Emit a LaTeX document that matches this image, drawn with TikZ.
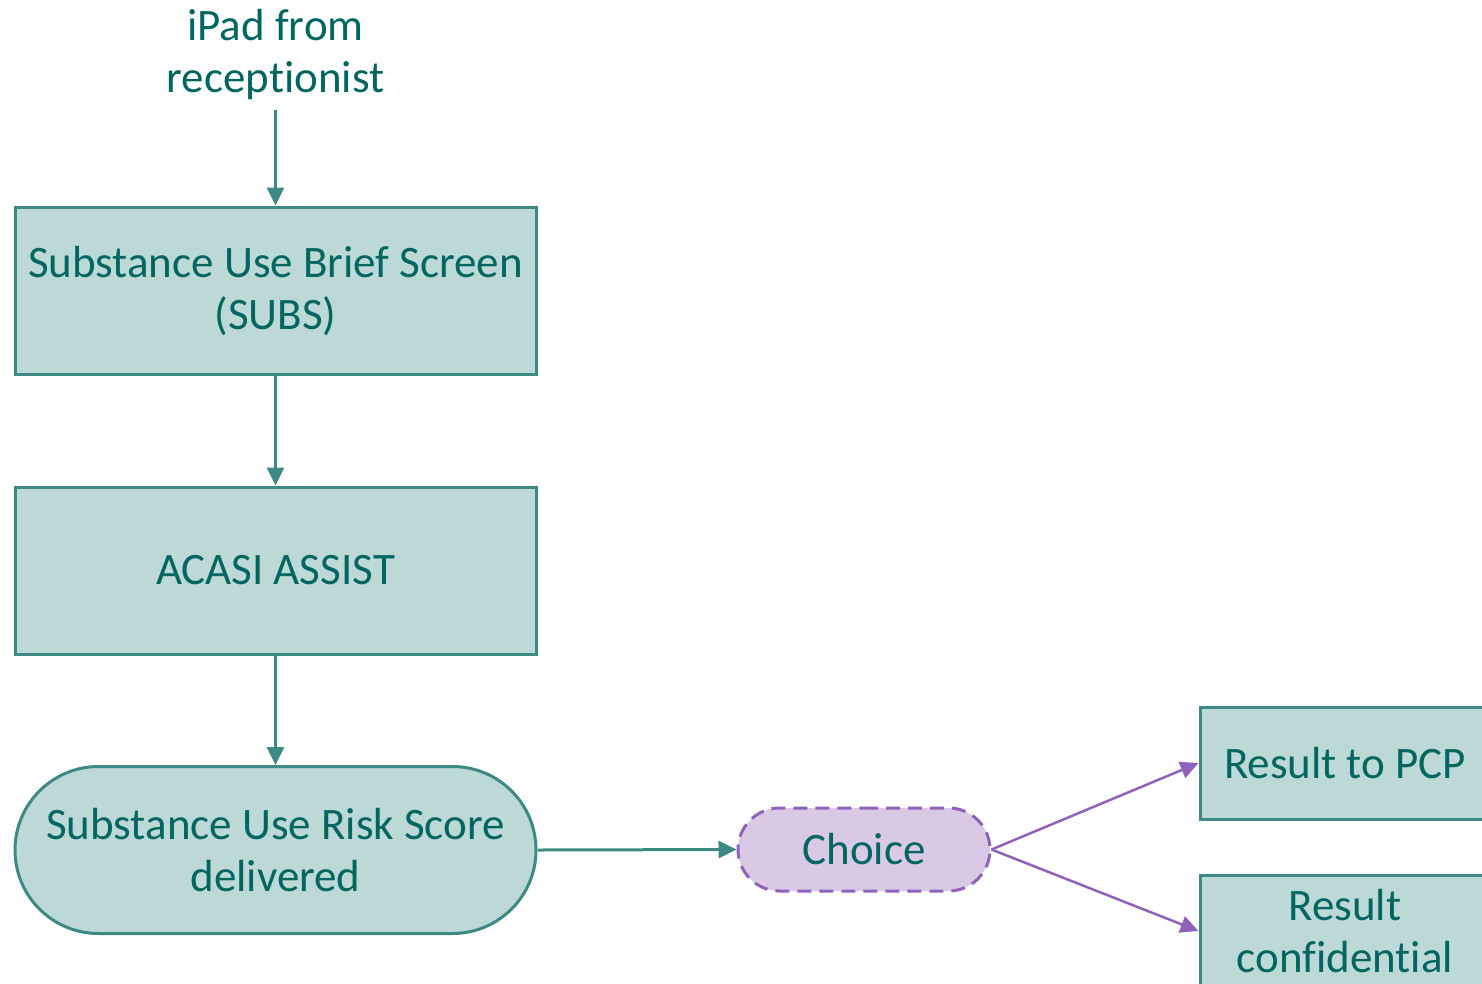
\documentclass[tikz,border=0pt]{standalone}
\usepackage{fontspec}
\setmainfont{Carlito}[Ligatures=NoCommon]
\usetikzlibrary{arrows.meta,shapes.misc}
\definecolor{tealtext}{HTML}{00665F}
\definecolor{tealfill}{HTML}{BCD8D7}
\definecolor{tealline}{HTML}{3D8A85}
\definecolor{purfill}{HTML}{D9C9E4}
\definecolor{purline}{HTML}{9062BA}
\tikzset{
  every node/.style={font=\fontsize{45}{52}\selectfont, text=tealtext, align=center, inner sep=0pt},
  boxnode/.style={draw=tealline, fill=tealfill, line width=3pt, minimum width=521pt, minimum height=167pt},
  roundnode/.style={boxnode, rounded rectangle},
  choicenode/.style={draw=purline, fill=purfill, line width=3pt, dash pattern=on 14pt off 8pt, rounded rectangle, minimum width=252pt, minimum height=83pt},
  resnode/.style={draw=tealline, fill=tealfill, line width=3pt, minimum width=290pt, minimum height=112pt},
  tealarrow/.style={draw=tealline, line width=3pt, -{Triangle[length=18pt,width=17pt]}},
  purarrow/.style={draw=purline, line width=2.5pt, -{Triangle[length=18pt,width=17pt]}},
}
\begin{document}
\begin{tikzpicture}[x=1pt,y=-1pt]
\useasboundingbox (0,0) rectangle (1482,983);
\fill[white] (0,0) rectangle (1482,983);
\begin{scope}
\clip (0,0) rectangle (1482,983);
\node (ipad) at (275.5,54) {iPad from\\receptionist};
\coordinate (ipadend) at (275.5,110);
\node[boxnode] (subs) at (275.5,290.5) {Substance Use Brief Screen\\(SUBS)};
\node[boxnode] (acasi) at (275.5,570.5) {ACASI ASSIST};
\node[roundnode] (risk) at (275.5,850) {Substance Use Risk Score\\delivered};
\node[choicenode] (choice) at (864,849.5) {Choice};
\node[resnode] (pcp) at (1345,763) {Result to PCP};
\node[resnode] (conf) at (1345,931) {Result\\confidential};
\draw[tealarrow] (ipadend) -- (subs.north);
\draw[tealarrow] (subs.south) -- (acasi.north);
\draw[tealarrow] (acasi.south) -- (risk.north);
\draw[tealarrow] (risk.east) -- (choice.west);
\draw[purarrow] (choice.east) -- (pcp.west);
\draw[purarrow] (choice.east) -- (conf.west);
\end{scope}
\end{tikzpicture}
\end{document}
